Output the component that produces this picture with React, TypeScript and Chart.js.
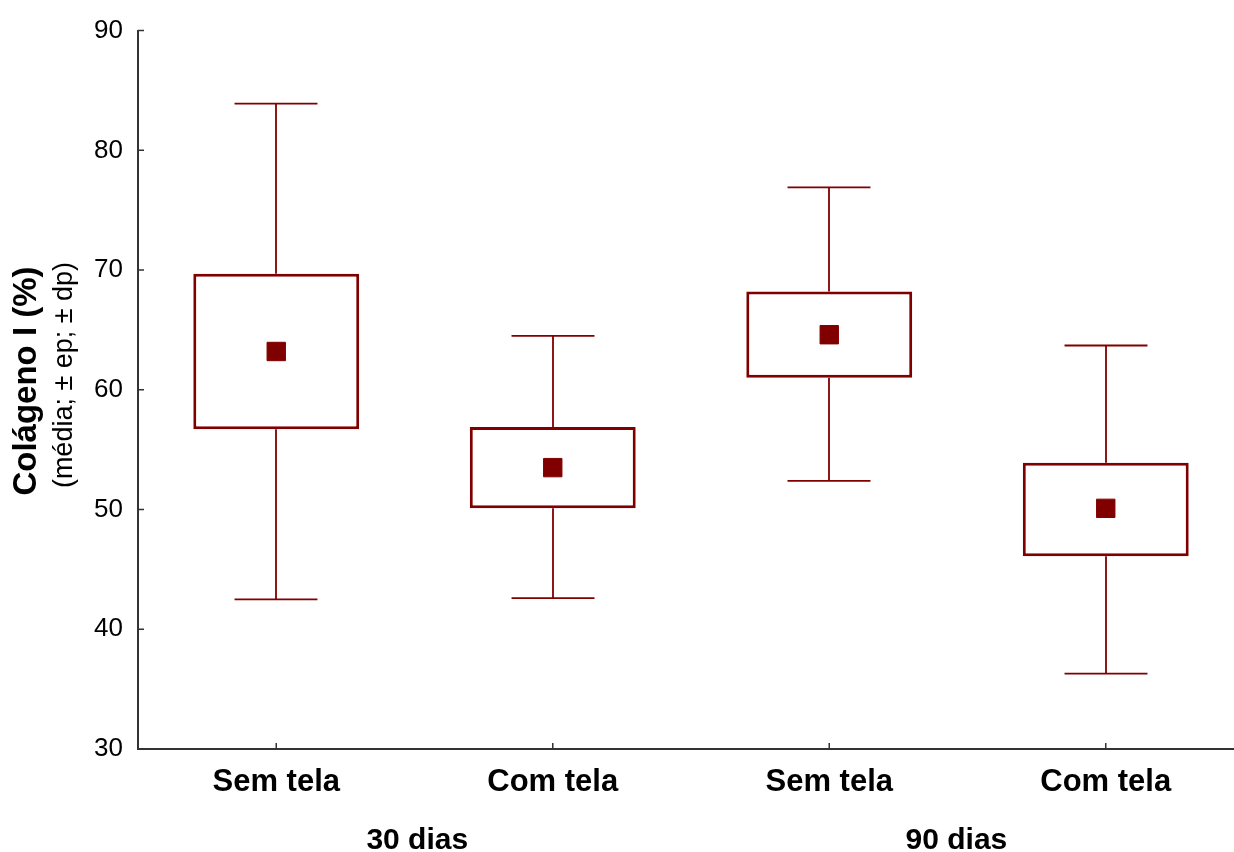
import React, { useEffect, useRef } from "react";
import { Chart, registerables } from "chart.js";

Chart.register(...registerables);

const categories = ["Sem tela", "Com tela", "Sem tela", "Com tela"];
const whiskerMax = [83.9, 64.5, 76.9, 63.7];
const boxHigh = [69.7, 56.9, 68.2, 53.9];
const means = [63.2, 53.5, 64.6, 50.1];
const boxLow = [56.7, 50.1, 61.0, 46.1];
const whiskerMin = [42.5, 42.6, 52.4, 36.3];
const groupLabels = ["30 dias", "90 dias"];
const groupCenters = [0.51, 2.46];
const yTitle = "Colágeno I (%)";
const ySubTitle = "(média; ± ep; ± dp)";

const FONT = "'Liberation Sans', Arial, sans-serif";
const RED = "#800000";
const AXIS = "#333333";

const customPlugin = {
  id: "custom",
  beforeDatasetsDraw(chart: any) {
    const ctx = chart.ctx;
    const x = chart.scales.x;
    const y = chart.scales.y;
    const catW = x.getPixelForValue(1) - x.getPixelForValue(0);
    const capHalf = catW * 0.15;
    ctx.save();
    ctx.strokeStyle = RED;
    ctx.lineWidth = 1.8;
    for (let i = 0; i < categories.length; i++) {
      const cx = Math.round(x.getPixelForValue(i));
      const yMax = y.getPixelForValue(whiskerMax[i]);
      const yHi = y.getPixelForValue(boxHigh[i]);
      const yLo = y.getPixelForValue(boxLow[i]);
      const yMin = y.getPixelForValue(whiskerMin[i]);
      ctx.beginPath();
      ctx.moveTo(cx, yMax);
      ctx.lineTo(cx, yHi);
      ctx.moveTo(cx, yLo);
      ctx.lineTo(cx, yMin);
      ctx.moveTo(cx - capHalf, yMax);
      ctx.lineTo(cx + capHalf, yMax);
      ctx.moveTo(cx - capHalf, yMin);
      ctx.lineTo(cx + capHalf, yMin);
      ctx.stroke();
    }
    ctx.restore();
  },
  afterDraw(chart: any) {
    const ctx = chart.ctx;
    const x = chart.scales.x;
    const y = chart.scales.y;
    const area = chart.chartArea;
    ctx.save();
    // inward ticks
    ctx.strokeStyle = AXIS;
    ctx.lineWidth = 1.5;
    ctx.beginPath();
    y.ticks.forEach((t: any) => {
      const py = y.getPixelForValue(t.value);
      ctx.moveTo(area.left, py);
      ctx.lineTo(area.left + 6, py);
    });
    for (let i = 0; i < categories.length; i++) {
      const px = x.getPixelForValue(i);
      ctx.moveTo(px, area.bottom);
      ctx.lineTo(px, area.bottom - 6);
    }
    ctx.stroke();
    // group labels
    const p0 = x.getPixelForValue(0);
    const catW = x.getPixelForValue(1) - p0;
    ctx.fillStyle = "#000";
    ctx.font = `bold 30px ${FONT}`;
    ctx.textAlign = "center";
    ctx.textBaseline = "alphabetic";
    groupLabels.forEach((g, i) => {
      ctx.fillText(g, p0 + groupCenters[i] * catW, 849);
    });
    // y titles
    ctx.save();
    ctx.translate(36, 381);
    ctx.rotate(-Math.PI / 2);
    ctx.font = `bold 33px ${FONT}`;
    ctx.fillText(yTitle, 0, 0);
    ctx.restore();
    ctx.save();
    ctx.translate(72, 375);
    ctx.rotate(-Math.PI / 2);
    ctx.font = `27px ${FONT}`;
    ctx.fillText(ySubTitle, 0, 0);
    ctx.restore();
    ctx.restore();
  },
};

export default function App() {
  const ref = useRef<HTMLCanvasElement>(null);
  useEffect(() => {
    if (!ref.current) return;
    const chart = new Chart(ref.current, {
      type: "bar",
      data: {
        labels: categories,
        datasets: [
          {
            type: "bar",
            data: boxLow.map((lo, i) => [lo, boxHigh[i]]) as any,
            backgroundColor: "#ffffff",
            borderColor: RED,
            borderWidth: 3,
            borderSkipped: false,
            barPercentage: 0.6,
            categoryPercentage: 1,
            order: 2,
          } as any,
          {
            type: "line",
            data: means,
            showLine: false,
            pointStyle: "rect",
            pointRadius: 13,
            pointBorderWidth: 1,
            pointBackgroundColor: RED,
            pointBorderColor: RED,
            order: 1,
          } as any,
        ],
      },
      options: {
        responsive: false,
        animation: false,
        devicePixelRatio: 1,
        layout: { autoPadding: false, padding: { top: 29, left: 0, right: 0, bottom: 0 } },
        plugins: {
          legend: { display: false },
          tooltip: { enabled: false },
        },
        scales: {
          x: {
            type: "category",
            offset: true,
            grid: { display: false, drawTicks: false },
            border: { display: true, color: AXIS, width: 2 },
            ticks: {
              color: "#000",
              padding: 15,
              font: { family: FONT, size: 31, weight: "bold" },
              maxRotation: 0,
            },
            afterFit(scale: any) {
              scale.height = 103;
            },
          },
          y: {
            min: 30,
            max: 90,
            grid: { display: false, drawTicks: false },
            border: { display: true, color: AXIS, width: 2 },
            ticks: {
              stepSize: 10,
              color: "#000",
              padding: 15,
              font: { family: FONT, size: 26 },
            },
            afterFit(scale: any) {
              scale.width = 138;
            },
          },
        },
      },
      plugins: [customPlugin],
    });
    return () => chart.destroy();
  }, []);
  return (
    <div
      style={{
        position: "fixed",
        left: 0,
        top: 0,
        width: 1234,
        height: 852,
        overflow: "hidden",
        background: "#fff",
      }}
    >
      <canvas ref={ref} width={1244} height={852} style={{ display: "block" }} />
    </div>
  );
}
